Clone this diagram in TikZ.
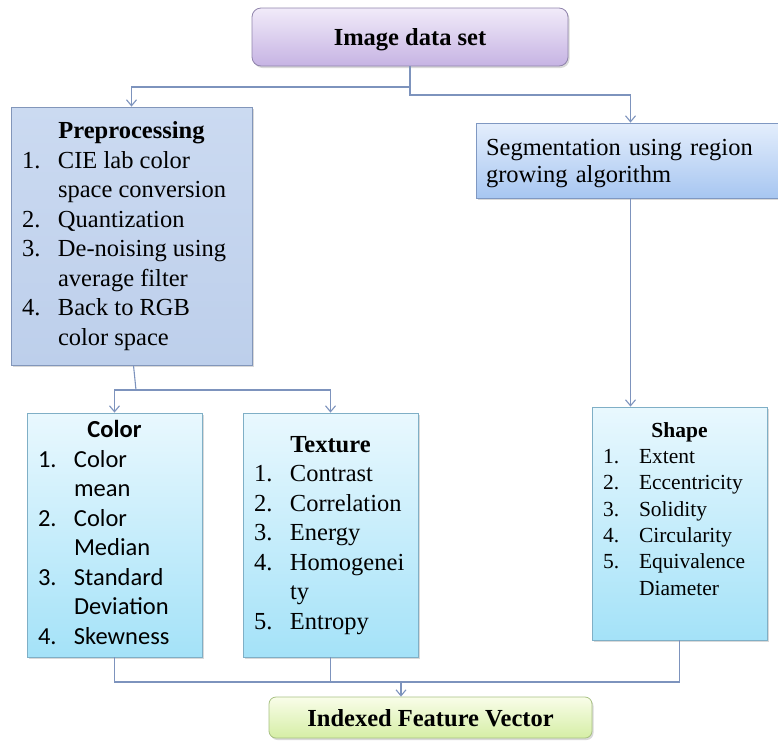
\documentclass[tikz,border=0pt]{standalone}
\usepackage{fontspec}
\setmainfont{Liberation Serif}
\newfontfamily\calibri{Carlito}
\usetikzlibrary{positioning, shadows, arrows.meta}

\definecolor{linecol}{HTML}{7D93BD}
\definecolor{purptop}{HTML}{F1EBF9}
\definecolor{purpbot}{HTML}{C6B3E3}
\definecolor{purpline}{HTML}{9084AC}
\definecolor{preptop}{HTML}{CBDAF1}
\definecolor{prepbot}{HTML}{BDCFEB}
\definecolor{prepline}{HTML}{8296BA}
\definecolor{segtop}{HTML}{E4EEFC}
\definecolor{segbot}{HTML}{A7C6F1}
\definecolor{segline}{HTML}{7F98C2}
\definecolor{cyantop}{HTML}{E9F8FE}
\definecolor{cyanbot}{HTML}{A4E2F8}
\definecolor{cyanline}{HTML}{7FAFC6}
\definecolor{greentop}{HTML}{F9FDE9}
\definecolor{greenbot}{HTML}{D5EEA5}
\definecolor{greenline}{HTML}{A8C183}

\begin{document}
\begin{tikzpicture}[x=1pt, y=-1pt, on grid,
    >={Straight Barb[length=6pt,width=10pt]},
    shadowed/.style={drop shadow={shadow xshift=1.5pt, shadow yshift=-2pt, opacity=0.3}},
    headbox/.style={shadowed, draw=purpline, line width=0.8pt, top color=purptop, bottom color=purpbot,
        rounded corners=9pt, minimum width=316pt, minimum height=58pt, text depth=0pt,
        font=\fontsize{24.5}{29.5}\selectfont\bfseries},
    prepbox/.style={shadowed, draw=prepline, line width=0.8pt, top color=preptop, bottom color=prepbot,
        inner sep=0pt, minimum width=241pt, minimum height=258pt,
        font=\fontsize{24.5}{29.5}\selectfont},
    segbox/.style={shadowed, draw=segline, line width=0.8pt, top color=segtop, bottom color=segbot,
        inner xsep=10pt, inner ysep=0pt, text width=289pt, align=left, minimum height=75pt, text depth=27pt,
        font=\fontsize{24.5}{27}\selectfont},
    featbox/.style={shadowed, draw=cyanline, line width=0.8pt, top color=cyantop, bottom color=cyanbot,
        inner sep=0pt, minimum width=175pt, minimum height=244pt,
        font=\fontsize{24.5}{29.5}\selectfont},
    footbox/.style={shadowed, draw=greenline, line width=0.8pt, top color=greentop, bottom color=greenbot,
        rounded corners=7pt, minimum width=323pt, minimum height=41pt, text depth=0pt,
        font=\fontsize{24.5}{29.5}\selectfont\bfseries},
    conn/.style={draw=linecol, line width=1.1pt},
    feed/.style={conn, ->}]

    \useasboundingbox (0,0) rectangle (778,740);

    \node[headbox] (dataset) at (410,37) {Image data set};

    \node[prepbox] (prep) [below left=199pt and 278.5pt of dataset]
        {\begin{tabular}{@{}p{36pt}@{}p{183pt}@{}}
            \multicolumn{2}{@{}c@{}}{\textbf{Preprocessing}}\\
            1. & CIE lab color\\
               & space conversion\\
            2. & Quantization\\
            3. & De-noising using\\
               & average filter\\
            4. & Back to RGB\\
               & color space
         \end{tabular}};

    \node[segbox] (seg) [below right=123.5pt and 220.5pt of dataset]
        {Segmentation using region\\growing algorithm};

    \node[featbox, font=\fontsize{24.5}{29.5}\calibri] (color) [below right=299pt and -17pt of prep]
        {\begin{tabular}{@{}p{36pt}@{}p{117pt}@{}}
            \multicolumn{2}{@{}c@{}}{\textbf{Color}}\\
            1. & Color\\
               & mean\\
            2. & Color\\
               & Median\\
            3. & Standard\\
               & Deviation\\
            4. & Skewness
         \end{tabular}};

    \node[featbox] (texture) [right=216pt of color]
        {\begin{tabular}{@{}p{36pt}@{}p{117pt}@{}}
            \multicolumn{2}{@{}c@{}}{\textbf{Texture}}\\
            1. & Contrast\\
            2. & Correlation\\
            3. & Energy\\
            4. & Homogenei\\
               & ty\\
            5. & Entropy
         \end{tabular}};

    \node[featbox, minimum height=233pt, font=\fontsize{21.5}{26.3}\selectfont] (shape)
        [below right=363pt and 49pt of seg]
        {\begin{tabular}{@{}p{36pt}@{}p{117pt}@{}}
            \multicolumn{2}{@{}c@{}}{\textbf{Shape}}\\
            1. & Extent\\
            2. & Eccentricity\\
            3. & Solidity\\
            4. & Circularity\\
            5. & Equivalence\\
               & Diameter\\[25pt]
         \end{tabular}};

    \node[footbox] (index) [below right=182.5pt and 100pt of texture] {Indexed Feature Vector};

    % forks
    \coordinate (fork1) at (410,87);
    \coordinate (fork2) at (410,95);
    \coordinate (fork3) at (136,390);
    \coordinate (merge) at (401,682);

    \draw[feed] (dataset.south) -- (fork1) -| (prep.north);
    \draw[feed] (fork1) -- (fork2) -| (seg.north);
    \draw[conn] ([xshift=2pt]prep.south) -- (fork3);
    \draw[feed] (fork3) -| (color.north);
    \draw[feed] (fork3) -| (texture.north);
    \draw[feed] (seg.south) -- (seg.south |- shape.north);
    \draw[conn] (color.south) |- (merge) -| (shape.south);
    \draw[conn] (texture.south) -- (texture.south |- merge);
    \draw[feed] (merge) -- (merge |- index.north);

\end{tikzpicture}
\end{document}
